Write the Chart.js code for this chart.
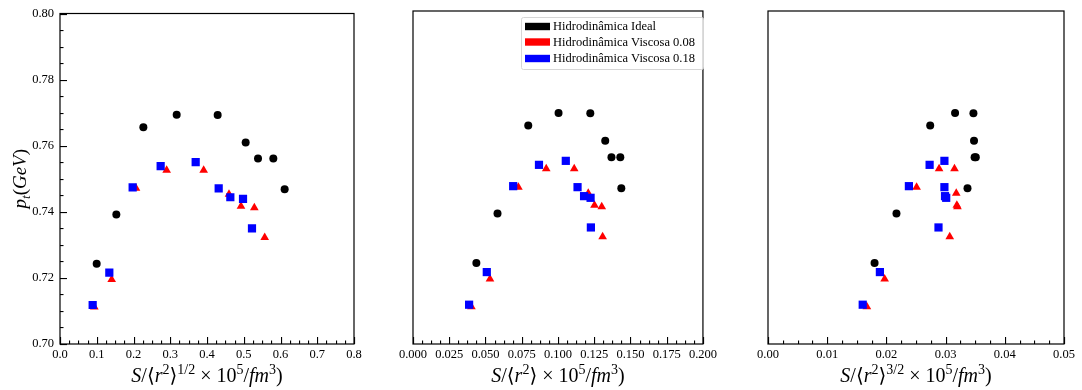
<!DOCTYPE html>
<html>
<head>
<meta charset="utf-8">
<script src="https://cdn.jsdelivr.net/npm/chart.js@4.4.1/dist/chart.umd.min.js"></script>
<style>
  body { margin: 0; background: #fff; width: 1082px; height: 390px; overflow: hidden; position: relative; }
  canvas { position: absolute; top: 0; }
</style>
</head>
<body>
<canvas id="c1" width="370" height="390" style="left:0px"></canvas>
<canvas id="c2" width="360" height="390" style="left:360px"></canvas>
<canvas id="c3" width="367" height="390" style="left:715px"></canvas>
<script>
// p_t (GeV) de cada ponto - o mesmo nos três painéis
const ptIdeal  = [0.7243, 0.7392, 0.7656, 0.7694, 0.7693, 0.7610, 0.7561, 0.7561, 0.7468];
const ptVisc08 = [0.7112, 0.7195, 0.7471, 0.7526, 0.7526, 0.7453, 0.7417, 0.7412, 0.7322];
const ptVisc18 = [0.7118, 0.7216, 0.7474, 0.7538, 0.7550, 0.7471, 0.7444, 0.7439, 0.7350];

// painel 1: S/<r^2>^(1/2)
const xIdeal1  = [0.0998, 0.1533, 0.2268, 0.3175, 0.4290, 0.5052, 0.5388, 0.5805, 0.6113];
const xVisc08a = [0.0934, 0.1406, 0.2068, 0.2902, 0.3909, 0.4599, 0.4925, 0.5288, 0.5570];
const xVisc18a = [0.0889, 0.1342, 0.1977, 0.2739, 0.3692, 0.4318, 0.4635, 0.4980, 0.5224];

// painel 2: S/<r^2>
const xIdeal2  = [0.0437, 0.0583, 0.0795, 0.1004, 0.1223, 0.1326, 0.1369, 0.1430, 0.1437];
const xVisc08b = [0.0403, 0.0531, 0.0727, 0.0919, 0.1112, 0.1209, 0.1252, 0.1302, 0.1308];
const xVisc18b = [0.0387, 0.0509, 0.0691, 0.0869, 0.1054, 0.1135, 0.1180, 0.1225, 0.1227];

// painel 3: S/<r^2>^(3/2)
const xIdeal3  = [0.0180, 0.0217, 0.0274, 0.0316, 0.0347, 0.0348, 0.0349, 0.0351, 0.0337];
const xVisc08c = [0.0167, 0.0197, 0.0251, 0.0289, 0.0315, 0.0318, 0.0319, 0.0320, 0.0307];
const xVisc18c = [0.0160, 0.0189, 0.0238, 0.0273, 0.0298, 0.0298, 0.0299, 0.0301, 0.0288];

// ticks (rótulos principais)
const yMajor = [0.70, 0.72, 0.74, 0.76, 0.78, 0.80];
const xMajor1 = [0.0, 0.1, 0.2, 0.3, 0.4, 0.5, 0.6, 0.7, 0.8];
const xMajor2 = [0.000, 0.025, 0.050, 0.075, 0.100, 0.125, 0.150, 0.175, 0.200];
const xMajor3 = [0.00, 0.01, 0.02, 0.03, 0.04, 0.05];

const seriesNames = ['Hidrodinâmica Ideal', 'Hidrodinâmica Viscosa 0.08', 'Hidrodinâmica Viscosa 0.18'];
const seriesColors = ['#000000', '#ff0000', '#0000ff'];

const FONT = '"Liberation Serif", "DejaVu Serif", serif';

// 4 ticks menores entre cada par de ticks principais
function withMinor(major) {
    const out = [];
    for (let i = 0; i < major.length - 1; i++) {
        const step = (major[i + 1] - major[i]) / 4;
        for (let k = 0; k < 4; k++) out.push(major[i] + k * step);
    }
    out.push(major[major.length - 1]);
    return out;
}

function isMajor(v, major) {
    return major.some(m => Math.abs(m - v) < 1e-9);
}

function runFont(kind, size) {
    const small = kind.includes('sup') || kind.includes('sub');
    const it = kind.startsWith('i') ? 'italic ' : '';
    return it + (small ? size * 0.7 : size) + 'px ' + FONT;
}

function drawRuns(ctx, runs, cx, cy, size) {
    let w = 0;
    runs.forEach(([t, k]) => { ctx.font = runFont(k, size); w += ctx.measureText(t).width; });
    let x = cx - w / 2;
    ctx.textAlign = 'left';
    ctx.textBaseline = 'alphabetic';
    runs.forEach(([t, k]) => {
        ctx.font = runFont(k, size);
        const dy = k.includes('sup') ? -size * 0.42 : (k.includes('sub') ? size * 0.22 : 0);
        ctx.fillText(t, x, cy + dy);
        x += ctx.measureText(t).width;
    });
}

// ticks e títulos de cada painel, guardados por id do canvas
const panelInfo = {};

const decor = {
    id: 'decor',
    afterDraw(chart) {
        const info = panelInfo[chart.canvas.id];
        const ctx = chart.ctx;
        const a = chart.chartArea;
        const sx = chart.scales.x, sy = chart.scales.y;
        ctx.save();

        // moldura
        ctx.strokeStyle = '#000';
        ctx.lineWidth = 1.2;
        ctx.strokeRect(a.left, a.top, a.right - a.left, a.bottom - a.top);

        // ticks para dentro, como no matplotlib
        ctx.fillStyle = '#000';
        info.xTicks.forEach(v => {
            const p = Math.round(sx.getPixelForValue(v));
            const len = isMajor(v, info.xMajor) ? 7 : 3.5;
            ctx.fillRect(p, a.bottom - len, 1.1, len);
        });
        if (info.yTicks) {
            info.yTicks.forEach(v => {
                const p = Math.round(sy.getPixelForValue(v));
                const len = isMajor(v, yMajor) ? 7 : 3.5;
                ctx.fillRect(a.left, p, len, 1.1);
            });
        }

        // título do eixo x
        drawRuns(ctx, info.xTitle, (a.left + a.right) / 2, 382, 20);

        // título do eixo y
        if (info.yTitle) {
            ctx.save();
            ctx.translate(26, (a.top + a.bottom) / 2);
            ctx.rotate(-Math.PI / 2);
            drawRuns(ctx, [['p', 'i'], ['t', 'isub'], ['(', 'r'], ['GeV', 'i'], [')', 'r']], 0, 0, 19);
            ctx.restore();
        }

        // legenda
        if (info.legend) {
            ctx.beginPath();
            ctx.roundRect(161.5, 17.5, 182, 52, 2);
            ctx.fillStyle = 'rgba(255,255,255,0.8)';
            ctx.fill();
            ctx.strokeStyle = '#d6d6d6';
            ctx.lineWidth = 1;
            ctx.stroke();
            const rows = [26.5, 42, 58.5];
            seriesNames.forEach((name, i) => {
                ctx.fillStyle = seriesColors[i];
                ctx.fillRect(165, rows[i] - 3.7, 25, 7.4);
                ctx.fillStyle = '#000';
                ctx.font = '12.5px ' + FONT;
                ctx.textAlign = 'left';
                ctx.textBaseline = 'middle';
                ctx.fillText(name, 193, rows[i] + 0.5);
            });
        }
        ctx.restore();
    }
};

function toPoints(xs, ys) {
    return xs.map((x, i) => ({ x: x, y: ys[i] }));
}

function makePanel(id, xs, xMajor, decimals, yLeft, padRight, info) {
    const xTicks = withMinor(xMajor);
    const yTicks = withMinor(yMajor);
    panelInfo[id] = Object.assign({ xTicks: xTicks, xMajor: xMajor, yTicks: info.showY ? yTicks : null }, info);
    const ctx = document.getElementById(id).getContext('2d');
    new Chart(ctx, {
        type: 'scatter',
        data: {
            datasets: [
                { label: seriesNames[0], data: toPoints(xs[0], ptIdeal), pointStyle: 'circle', pointRadius: 4,
                  backgroundColor: seriesColors[0], borderWidth: 0, order: 2 },
                { label: seriesNames[1], data: toPoints(xs[1], ptVisc08), pointStyle: 'triangle', pointRadius: 5,
                  backgroundColor: seriesColors[1], borderWidth: 0, order: 1 },
                { label: seriesNames[2], data: toPoints(xs[2], ptVisc18), pointStyle: 'rect', pointRadius: 5.8,
                  backgroundColor: seriesColors[2], borderWidth: 0, order: 0 },
            ]
        },
        options: {
            responsive: false,
            animation: false,
            devicePixelRatio: 1,
            layout: { padding: { top: 11, right: padRight, left: 0, bottom: 0 } },
            plugins: {
                legend: { display: false },
                tooltip: { enabled: false }
            },
            scales: {
                x: {
                    type: 'linear',
                    min: xMajor[0],
                    max: xMajor[xMajor.length - 1],
                    afterBuildTicks: s => { s.ticks = xTicks.map(v => ({ value: v })); },
                    afterFit: s => { s.height = 46; },
                    grid: { display: false, drawTicks: false },
                    border: { display: false },
                    ticks: {
                        autoSkip: false,
                        maxRotation: 0,
                        padding: 3,
                        color: '#000',
                        font: { family: FONT, size: 12.5 },
                        callback: v => isMajor(v, xMajor) ? v.toFixed(decimals) : ''
                    }
                },
                y: {
                    type: 'linear',
                    min: 0.70,
                    max: 0.80,
                    afterBuildTicks: s => { s.ticks = yTicks.map(v => ({ value: v })); },
                    afterFit: s => { s.width = yLeft; },
                    grid: { display: false, drawTicks: false },
                    border: { display: false },
                    ticks: {
                        display: info.showY,
                        autoSkip: false,
                        padding: 6,
                        color: '#000',
                        font: { family: FONT, size: 12.5 },
                        callback: v => isMajor(v, yMajor) ? v.toFixed(2) : ''
                    }
                }
            }
        },
        plugins: [decor]
    });
}

const title1 = [['S', 'i'], ['/', 'r'], ['⟨', 'r'], ['r', 'i'], ['2', 'sup'], ['⟩', 'r'], ['1/2', 'sup'],
    [' × 10', 'r'], ['5', 'sup'], ['/', 'r'], ['fm', 'i'], ['3', 'sup'], [')', 'r']];
const title2 = [['S', 'i'], ['/', 'r'], ['⟨', 'r'], ['r', 'i'], ['2', 'sup'], ['⟩', 'r'],
    [' × 10', 'r'], ['5', 'sup'], ['/', 'r'], ['fm', 'i'], ['3', 'sup'], [')', 'r']];
const title3 = [['S', 'i'], ['/', 'r'], ['⟨', 'r'], ['r', 'i'], ['2', 'sup'], ['⟩', 'r'], ['3/2', 'sup'],
    [' × 10', 'r'], ['5', 'sup'], ['/', 'r'], ['fm', 'i'], ['3', 'sup'], [')', 'r']];

makePanel('c1', [xIdeal1, xVisc08a, xVisc18a], xMajor1, 1, 60, 16,
    { showY: true, yTitle: true, legend: false, xTitle: title1 });
makePanel('c2', [xIdeal2, xVisc08b, xVisc18b], xMajor2, 3, 53, 11,
    { showY: false, yTitle: false, legend: true, xTitle: title2 });
makePanel('c3', [xIdeal3, xVisc08c, xVisc18c], xMajor3, 2, 53, 18,
    { showY: false, yTitle: false, legend: false, xTitle: title3 });
</script>
</body>
</html>
